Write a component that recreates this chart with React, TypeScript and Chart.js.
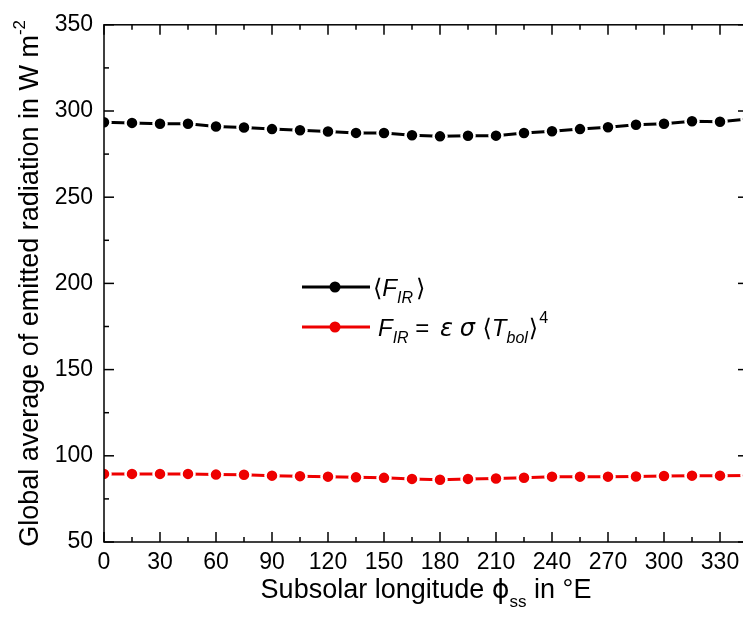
import React, { useEffect, useRef } from "react";
import { Chart, registerables } from "chart.js";

Chart.register(...registerables);

// ---- data ----
const longitudes = [0, 15, 30, 45, 60, 75, 90, 105, 120, 135, 150, 165, 180, 195, 210, 225, 240, 255, 270, 285, 300, 315, 330, 345];
const meanFlux = [293.5, 293.1, 292.6, 292.6, 291.0, 290.4, 289.5, 288.8, 288.1, 287.3, 287.2, 285.9, 285.3, 285.6, 285.7, 287.2, 288.3, 289.5, 290.6, 292.0, 292.6, 294.1, 293.8, 295.4];
const bolFlux = [89.5, 89.5, 89.5, 89.5, 89.1, 89.0, 88.5, 88.2, 87.9, 87.5, 87.2, 86.6, 86.1, 86.6, 86.8, 87.3, 87.9, 87.9, 87.9, 88.0, 88.3, 88.5, 88.5, 88.6];
const xTickValues = [0, 30, 60, 90, 120, 150, 180, 210, 240, 270, 300, 330];
const xMinorValues = [15, 45, 75, 105, 135, 165, 195, 225, 255, 285, 315, 345];
const yTickValues = [50, 100, 150, 200, 250, 300, 350];
const yMinorValues = [75, 125, 175, 225, 275, 325];

const FONT = '"Liberation Sans", Arial, Helvetica, sans-serif';
const GREEK = '"DejaVu Sans", "Liberation Sans", sans-serif';

type Run = { t: string; size: number; italic?: boolean; dy?: number; family?: string; gap?: number };

function runsWidth(ctx: CanvasRenderingContext2D, runs: Run[]) {
  let w = 0;
  for (const r of runs) {
    ctx.font = `${r.italic ? "italic " : ""}${r.size}px ${r.family || FONT}`;
    w += ctx.measureText(r.t).width + (r.gap || 0);
  }
  return w;
}

function drawRuns(ctx: CanvasRenderingContext2D, runs: Run[], x: number, y: number) {
  let cx = x;
  ctx.textBaseline = "alphabetic";
  ctx.textAlign = "left";
  for (const r of runs) {
    ctx.font = `${r.italic ? "italic " : ""}${r.size}px ${r.family || FONT}`;
    ctx.fillText(r.t, cx, y + (r.dy || 0));
    cx += ctx.measureText(r.t).width + (r.gap || 0);
  }
}

const decorPlugin = {
  id: "decor",
  afterDraw(chart: any) {
    const ctx: CanvasRenderingContext2D = chart.ctx;
    const { left, right, top, bottom } = chart.chartArea;
    const xs = chart.scales.x;
    const ys = chart.scales.y;
    ctx.save();
    ctx.strokeStyle = "#000";
    ctx.fillStyle = "#000";
    ctx.lineWidth = 1.5;
    ctx.strokeRect(left, top, right - left, bottom - top);

    const tick = (x1: number, y1: number, x2: number, y2: number) => {
      ctx.beginPath();
      ctx.moveTo(x1, y1);
      ctx.lineTo(x2, y2);
      ctx.stroke();
    };
    for (const v of xTickValues) {
      const p = xs.getPixelForValue(v);
      tick(p, bottom, p, bottom - 10);
      tick(p, top, p, top + 10);
    }
    for (const v of xMinorValues) {
      const p = xs.getPixelForValue(v);
      tick(p, bottom, p, bottom - 5);
      tick(p, top, p, top + 5);
    }
    for (const v of yTickValues) {
      const p = ys.getPixelForValue(v);
      tick(left, p, left + 10, p);
      tick(right, p, right - 10, p);
    }
    for (const v of yMinorValues) {
      const p = ys.getPixelForValue(v);
      tick(left, p, left + 5, p);
      tick(right, p, right - 5, p);
    }

    // x axis title
    const xRuns: Run[] = [
      { t: "Subsolar longitude ", size: 27 },
      { t: "\u03D5", size: 27, family: GREEK },
      { t: "ss", size: 17, dy: 9 },
      { t: " in \u00B0E", size: 27 },
    ];
    const xw = runsWidth(ctx, xRuns);
    drawRuns(ctx, xRuns, (left + right) / 2 - xw / 2, 598);

    // y axis title
    const yRuns: Run[] = [
      { t: "Global average of emitted radiation in W m", size: 27 },
      { t: "-2", size: 17, dy: -13 },
    ];
    const yw = runsWidth(ctx, yRuns);
    ctx.save();
    ctx.translate(38, (top + bottom) / 2);
    ctx.rotate(-Math.PI / 2);
    drawRuns(ctx, yRuns, -yw / 2, 0);
    ctx.restore();

    // legend
    const legend = [
      {
        color: "#000000",
        y: 287,
        x: 373,
        runs: [
          { t: "\u27E8", size: 24, family: GREEK },
          { t: "F", size: 24, italic: true },
          { t: "IR", size: 16, italic: true, dy: 7, gap: 3 },
          { t: "\u27E9", size: 24, family: GREEK },
        ] as Run[],
      },
      {
        color: "#ee0000",
        y: 327,
        x: 378,
        runs: [
          { t: "F", size: 24, italic: true },
          { t: "IR", size: 16, italic: true, dy: 7 },
          { t: " = ", size: 24, gap: 4 },
          { t: "\u03B5", size: 24, italic: true, family: GREEK },
          { t: " ", size: 24 },
          { t: "\u03C3", size: 24, italic: true, family: GREEK },
          { t: " \u27E8", size: 24, family: GREEK },
          { t: "T", size: 24, italic: true },
          { t: "bol", size: 16, italic: true, dy: 7, gap: 1 },
          { t: "\u27E9", size: 24, family: GREEK, gap: 1 },
          { t: "4", size: 16, dy: -13 },
        ] as Run[],
      },
    ];
    for (const item of legend) {
      ctx.strokeStyle = item.color;
      ctx.fillStyle = item.color;
      ctx.lineWidth = 3;
      tick(302, item.y, 370, item.y);
      ctx.beginPath();
      ctx.arc(335, item.y, 5.5, 0, Math.PI * 2);
      ctx.fill();
      ctx.fillStyle = "#000";
      drawRuns(ctx, item.runs, item.x, item.y + 9);
    }
    ctx.restore();
  },
};

export default function App() {
  const ref = useRef<HTMLCanvasElement | null>(null);
  useEffect(() => {
    if (!ref.current) return;
    const chart = new Chart(ref.current, {
      type: "line",
      data: {
        datasets: [
          {
            label: "<F_IR>",
            data: longitudes.map((x, i) => ({ x, y: meanFlux[i] })),
            borderColor: "#000000",
            backgroundColor: "#000000",
            borderWidth: 3,
            pointRadius: 6.5,
            pointBorderWidth: 2.5,
            pointBackgroundColor: "#000000",
            pointBorderColor: "#ffffff",
          },
          {
            label: "F_IR = eps sigma <T_bol>^4",
            data: longitudes.map((x, i) => ({ x, y: bolFlux[i] })),
            borderColor: "#ee0000",
            backgroundColor: "#ee0000",
            borderWidth: 3,
            pointRadius: 6.5,
            pointBorderWidth: 2.5,
            pointBackgroundColor: "#ee0000",
            pointBorderColor: "#ffffff",
          },
        ],
      },
      options: {
        responsive: false,
        devicePixelRatio: 1,
        animation: false,
        layout: { padding: { top: 20, right: 12, left: 0, bottom: 0 } },
        plugins: { legend: { display: false }, tooltip: { enabled: false } },
        scales: {
          x: {
            type: "linear",
            min: 0,
            max: 345,
            afterBuildTicks: (s: any) => {
              s.ticks = xTickValues.map((v) => ({ value: v }));
            },
            afterFit: (s: any) => {
              s.height = 76;
            },
            ticks: {
              font: { family: FONT, size: 23 },
              color: "#000",
              padding: 7,
              maxRotation: 0,
              autoSkip: false,
            },
            grid: { display: false, drawTicks: false },
            border: { display: false },
          },
          y: {
            type: "linear",
            min: 50,
            max: 350,
            afterBuildTicks: (s: any) => {
              s.ticks = yTickValues.map((v) => ({ value: v }));
            },
            afterFit: (s: any) => {
              s.width = 104;
            },
            ticks: {
              font: { family: FONT, size: 23 },
              color: "#000",
              padding: 11,
              autoSkip: false,
            },
            grid: { display: false, drawTicks: false },
            border: { display: false },
          },
        },
      },
      plugins: [decorPlugin],
    } as any);
    return () => chart.destroy();
  }, []);

  return (
    <div
      style={{
        position: "fixed",
        left: 0,
        top: 0,
        width: 743,
        height: 618,
        overflow: "hidden",
        background: "#fff",
      }}
    >
      <canvas ref={ref} width={760} height={618} style={{ display: "block" }} />
    </div>
  );
}
